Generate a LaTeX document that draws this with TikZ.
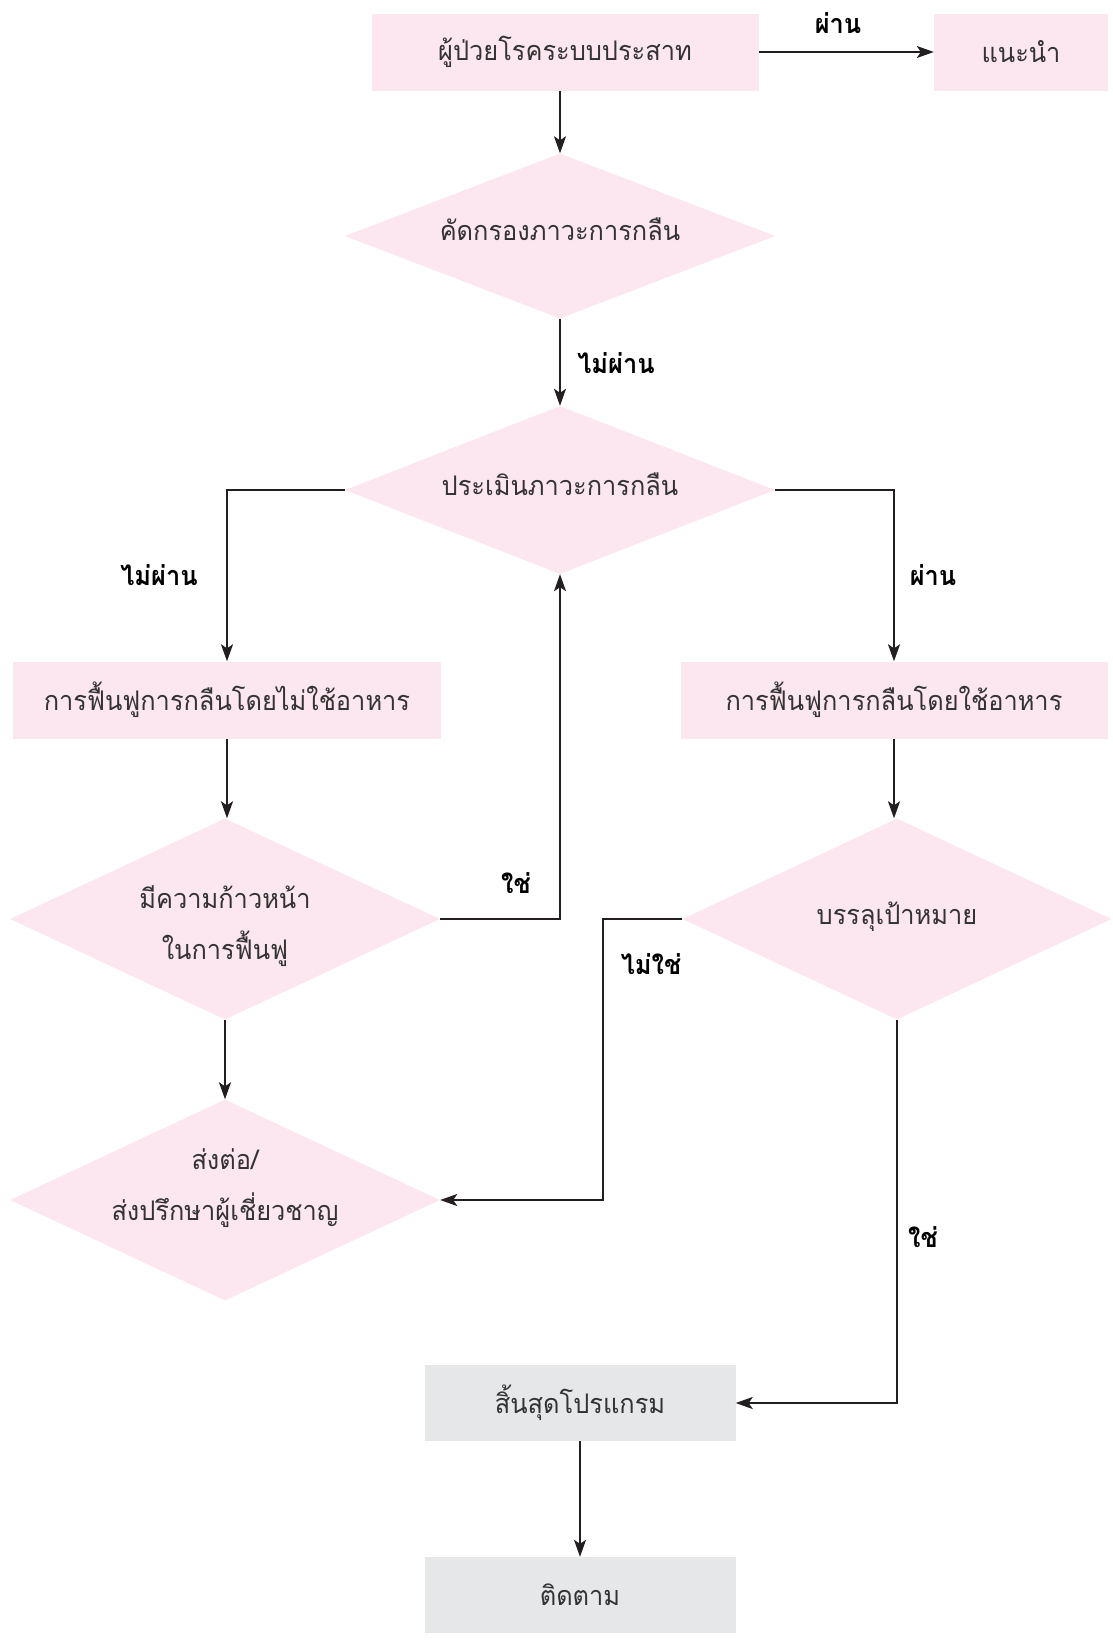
\documentclass[tikz,border=0pt]{standalone}
\usepackage{fontspec}
\newfontfamily\thaifont[Script=Thai,FakeStretch=0.94]{Loma}
\usetikzlibrary{shapes.geometric,arrows.meta,calc}
\definecolor{pinkfill}{HTML}{FCE6EF}
\definecolor{grayfill}{HTML}{E6E7E8}
\definecolor{txt}{HTML}{333333}
\definecolor{ln}{HTML}{231F20}
\begin{document}
\begin{tikzpicture}[x=1pt,y=-1pt,
  every node/.style={font=\thaifont\fontsize{27}{51}\selectfont, text=txt},
  box/.style={rectangle, fill=pinkfill, minimum width=387, minimum height=77, inner sep=0},
  gbox/.style={rectangle, fill=grayfill, minimum width=311, minimum height=76, inner sep=0},
  dia/.style={diamond, fill=pinkfill, minimum width=430, minimum height=#1, inner sep=0},
  dtext/.style={align=center, inner sep=0},
  lbl/.style={font=\thaifont\bfseries\fontsize{27}{32}\selectfont, text=black},
  con/.style={draw=ln, line width=1.9pt, -{Stealth[length=17pt,width=12pt,inset=4pt]}}
]
\useasboundingbox (0,0) rectangle (1113,1641);
\node[box] (top) at (565,52) {ผู้ป่วยโรคระบบประสาท};
\node[box, minimum width=174] (adv) at (1021,52) {แนะนำ};
\node[dia=165] (d1) at (560,236) {};
\node[dtext] (t1) at (560,229) {คัดกรองภาวะการกลืน};
\node[dia=168] (d2) at (560,490) {};
\node[dtext] (t2) at (560,484) {ประเมินภาวะการกลืน};
\node[box, minimum width=428] (L) at (227,700) {การฟื้นฟูการกลืนโดยไม่ใช้อาหาร};
\node[box, minimum width=427] (R) at (894,700) {การฟื้นฟูการกลืนโดยใช้อาหาร};
\node[dia=201] (d3) at (225,919) {};
\node[dtext] (t3) at (225,926) {มีความก้าวหน้า\\ในการฟื้นฟู};
\node[dia=201] (d4) at (225,1200) {};
\node[dtext] (t4) at (225,1188) {ส่งต่อ/\\ส่งปรึกษาผู้เชี่ยวชาญ};
\node[dia=201, minimum width=429] (d5) at (897,919) {};
\node[dtext] (t5) at (897,917) {บรรลุเป้าหมาย};
\node[gbox] (end) at (580,1403) {สิ้นสุดโปรแกรม};
\node[gbox] (fol) at (580,1595) {ติดตาม};
\coordinate (k1) at (603,919);

\draw[con] (top.east |- adv.west) -- (adv.west);
\draw[con] (top.south -| d1.north) -- (d1.north);
\draw[con] (d1.south) -- (d2.north);
\draw[con] (d2.west) -| (L.north);
\draw[con] (d2.east) -| (R.north);
\draw[con] (L.south) -- (L.south |- d3.north);
\draw[con] (d3.east) -| (d2.south);
\draw[con] (d3.south) -- (d4.north);
\draw[con] (R.south) -- (R.south |- d5.north);
\draw[con] (d5.west) -- (k1) |- (d4.east);
\draw[con] (d5.south) |- (end.east);
\draw[con] (end.south) -- (fol.north);

\node[lbl] (l1) at (838,23) {ผ่าน};
\node[lbl] (l2) at (616,363) {ไม่ผ่าน};
\node[lbl] (l3) at (159,575) {ไม่ผ่าน};
\node[lbl] (l4) at (933,575) {ผ่าน};
\node[lbl] (l5) at (516,883) {ใช่};
\node[lbl] (l6) at (651,964) {ไม่ใช่};
\node[lbl] (l7) at (923,1237) {ใช่};
\end{tikzpicture}
\end{document}
